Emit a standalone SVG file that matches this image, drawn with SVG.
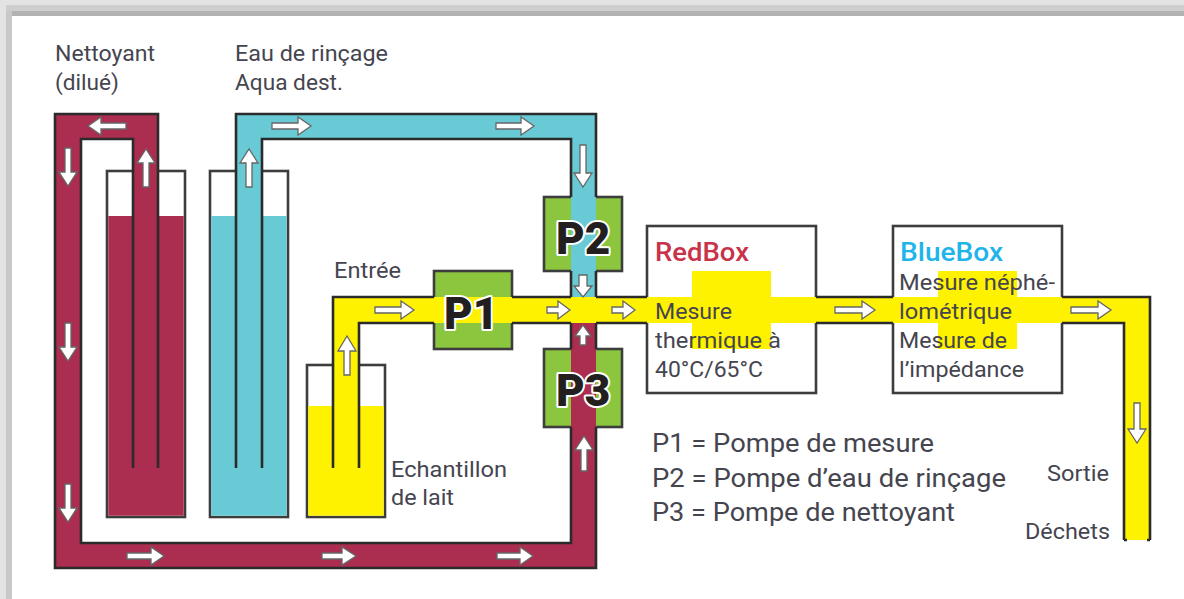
<svg xmlns="http://www.w3.org/2000/svg" width="1184" height="599" viewBox="0 0 1184 599">
<style>
text{font-family:Roboto,"Liberation Sans",sans-serif;fill:#45454f;font-size:21.5px}
.lg{font-size:26px}
.ttl{font-size:26px;font-weight:500}
.p{font-size:44px;font-weight:900;fill:#231f20;stroke:#fff;stroke-width:4px;paint-order:stroke;stroke-linejoin:round}
.ln{fill:none;stroke:#2b2b2b;stroke-width:2.6}
.box{fill:#fff;stroke:#3d3d3d;stroke-width:2.6}
.pump{fill:#8cc63f;stroke:#3d3d3d;stroke-width:2.6}
.red{fill:#ab2d50}.blue{fill:#68cad4}.yel{fill:#fff200}
.a{fill:#fff;stroke:#666;stroke-width:1.3;stroke-linejoin:miter}
</style>
<rect width="1184" height="599" fill="#fff"/>
<g id="frame">
<rect x="0" y="0" width="1184" height="5" fill="#e3e3e3"/>
<rect x="0" y="5" width="1184" height="6" fill="#cecece"/>
<rect x="6" y="11" width="1178" height="5" fill="#b2b2b2"/>
<rect x="0" y="5" width="6" height="594" fill="#e3e3e3"/>
<rect x="6" y="11" width="6" height="588" fill="#c8c8c8"/>
</g>
<g id="tank-nettoyant">
<rect class="box" x="107" y="171" width="78" height="346"/>
<rect class="red" x="108.300" y="216" width="75.400" height="299.700"/>
</g>
<g id="tank-eau">
<rect class="box" x="210" y="171" width="78" height="346"/>
<rect class="blue" x="211.300" y="216" width="75.400" height="299.700"/>
</g>
<g id="tank-lait">
<rect class="box" x="307" y="365" width="78" height="152"/>
<rect class="yel" x="308.300" y="406" width="75.400" height="109.700"/>
</g>
<g id="pump-p1"><rect class="pump" x="434" y="271" width="78" height="78"/></g>
<g id="pump-p2"><rect class="pump" x="544" y="197" width="78" height="74"/></g>
<g id="pump-p3"><rect class="pump" x="544" y="349" width="78" height="78"/></g>
<g id="redbox"><rect class="box" x="647" y="226" width="169" height="167"/><rect class="yel" x="692" y="271" width="79" height="78"/></g>
<g id="bluebox"><rect class="box" x="893" y="226" width="169" height="167"/><rect class="yel" x="938" y="271" width="79" height="78"/></g>
<g id="connectors">
<path class="red" d="M133,468V139H81V543H571V323H596V568H55V114H158V468Z"/>
<path class="blue" d="M236,468V114H596V297H571V139H262V468Z"/>
<path class="yel" d="M333,468V297H1150V540H1124V323H359V468Z"/>
<path class="ln" d="M133,468V139H81V543H571V427M596,427V568H55V114H158V468"/>
<path class="ln" d="M236,468V114H596V197M571,197V139H262V468M571,271V297M596,271V297"/>
<path class="ln" d="M333,468V297H434M359,468V323H434M512,297H571M512,323H571M596,297H647M596,323H647M816,297H893M816,323H893M1062,297H1150V540M1062,323H1124V540M571,323V349M596,323V349"/>
<path class="ln" d="M1124,540h3M1150,540h-3" stroke-width="2"/>
</g>
<g id="arrows">
<path class="a" d="M126,123H101V117L88,126L101,135V129H126Z"/>
<path class="a" d="M65,148V172H59L68,186L77,172H71V148Z"/>
<path class="a" d="M65,323V347H59L68,361L77,347H71V323Z"/>
<path class="a" d="M65,484V508H59L68,522L77,508H71V484Z"/>
<path class="a" d="M143,187V163H137L146,149L155,163H149V187Z"/>
<path class="a" d="M127,553H151V547L164,556L151,565V559H127Z"/>
<path class="a" d="M322,553H342V547L356,556L342,565V559H322Z"/>
<path class="a" d="M497,553H520V547L533,556L520,565V559H497Z"/>
<path class="a" d="M581,471V450H575L584,436L593,450H587V471Z"/>
<path class="a" d="M580,345V336H575L583,325L591,336H586V345Z"/>
<path class="a" d="M272,123H298V117L311,126L298,135V129H272Z"/>
<path class="a" d="M496,123H521V117L534,126L521,135V129H496Z"/>
<path class="a" d="M246,187V163H240L249,149L258,163H252V187Z"/>
<path class="a" d="M580,145V173H574L583,187L592,173H586V145Z"/>
<path class="a" d="M579,275V286H574L583,297L592,286H587V275Z"/>
<path class="a" d="M375,307H401V301L414,310L401,319V313H375Z"/>
<path class="a" d="M547,307H558V301L570,310L558,319V313H547Z"/>
<path class="a" d="M612,307H623V301L635,310L623,319V313H612Z"/>
<path class="a" d="M835,307H862V301L875,310L862,319V313H835Z"/>
<path class="a" d="M1071,307H1098V301L1111,310L1098,319V313H1071Z"/>
<path class="a" d="M344,375V351H338L347,336L356,351H350V375Z"/>
<path class="a" d="M1134,403V429H1128L1137,443L1146,429H1140V403Z"/>
</g>
<g id="labels">
<text x="55" y="61" textLength="100" lengthAdjust="spacingAndGlyphs">Nettoyant</text>
<text x="55" y="90" textLength="64" lengthAdjust="spacingAndGlyphs">(dilué)</text>
<text x="235" y="61" textLength="153" lengthAdjust="spacingAndGlyphs">Eau de rinçage</text>
<text x="235" y="90" textLength="108" lengthAdjust="spacingAndGlyphs">Aqua dest.</text>
<text x="334" y="278" textLength="67" lengthAdjust="spacingAndGlyphs">Entrée</text>
<text x="391" y="477" textLength="116" lengthAdjust="spacingAndGlyphs">Echantillon</text>
<text x="391" y="505" textLength="63" lengthAdjust="spacingAndGlyphs">de lait</text>
<text class="ttl" x="655" y="261" textLength="94" lengthAdjust="spacingAndGlyphs" style="fill:#c8334a">RedBox</text>
<text x="655" y="319" textLength="77" lengthAdjust="spacingAndGlyphs">Mesure</text>
<text x="655" y="348" textLength="126" lengthAdjust="spacingAndGlyphs">thermique à</text>
<text x="655" y="377" textLength="108" lengthAdjust="spacingAndGlyphs">40°C/65°C</text>
<text class="ttl" x="900" y="261" textLength="103" lengthAdjust="spacingAndGlyphs" style="fill:#1fb4ea">BlueBox</text>
<text x="899" y="290" textLength="156" lengthAdjust="spacingAndGlyphs">Mesure néphé-</text>
<text x="899" y="319" textLength="113" lengthAdjust="spacingAndGlyphs">lométrique</text>
<text x="899" y="348" textLength="108" lengthAdjust="spacingAndGlyphs">Mesure de</text>
<text x="899" y="377" textLength="125" lengthAdjust="spacingAndGlyphs">l’impédance</text>
<text class="lg" x="652" y="452" textLength="282" lengthAdjust="spacingAndGlyphs">P1 = Pompe de mesure</text>
<text class="lg" x="652" y="487" textLength="354" lengthAdjust="spacingAndGlyphs">P2 = Pompe d’eau de rinçage</text>
<text class="lg" x="652" y="521" textLength="303" lengthAdjust="spacingAndGlyphs">P3 = Pompe de nettoyant</text>
<text x="1047" y="481" textLength="62" lengthAdjust="spacingAndGlyphs">Sortie</text>
<text x="1025" y="539" textLength="85" lengthAdjust="spacingAndGlyphs">Déchets</text>
<text class="p" x="444" y="329">P1</text>
<text class="p" x="556" y="254">P2</text>
<text class="p" x="556" y="406">P3</text>
</g>
</svg>
